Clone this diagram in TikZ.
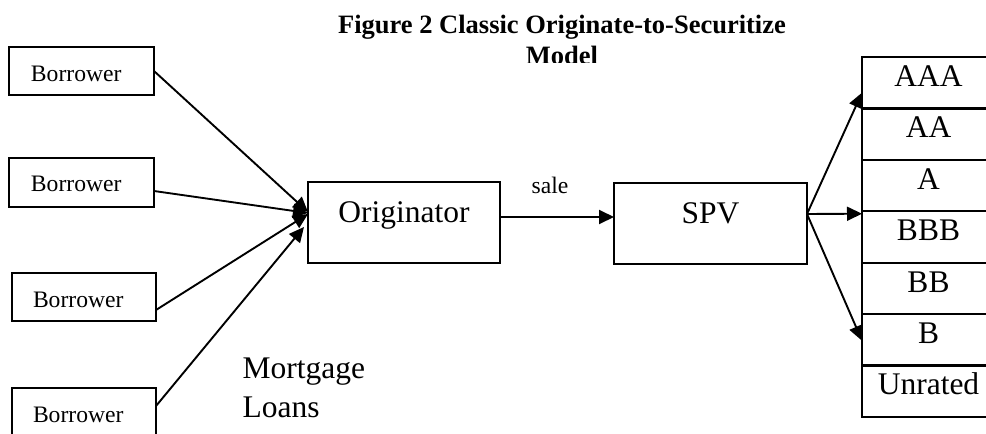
\documentclass[tikz,border=0pt]{standalone}
\usepackage{fontspec}
\setmainfont{Liberation Serif}
\usetikzlibrary{arrows.meta}
\begin{document}
\begin{tikzpicture}[x=1pt,y=-1pt,
  box/.style={draw, line width=2.2pt, inner sep=0pt, outer sep=0pt},
  conn/.style={line width=1.9pt},
  arr/.style={conn, -{Triangle[length=15pt,width=14pt]}},
  small/.style={font=\fontsize{23.6}{28}\selectfont},
  big/.style={font=\fontsize{31.5}{38}\selectfont},
  titlefont/.style={font=\bfseries\fontsize{26.5}{31.5}\selectfont},
  borrowerbox/.style={box, small, anchor=north west, text height=34pt, text depth=14pt},
  bigbox/.style={box, big, anchor=north west, text height=40pt, text depth=41pt},
  tranche/.style={box, big, anchor=north west, text height=29.5pt, text depth=21.9pt},
]
\useasboundingbox (0,0) rectangle (986,434);

% title
\node[titlefont, anchor=base] (title) at (562,33) {Figure 2 Classic Originate-to-Securitize};
\begin{scope}
  \clip (400,38) rectangle (720,62.5);
  \node[titlefont, anchor=base] (model) at (562,64.5) {Model};
\end{scope}

% borrowers
\node[borrowerbox] (b1) at (9,47) {\makebox[145pt][l]{\hspace{22pt}Borrower}};
\node[borrowerbox, text height=33pt, text depth=16pt] (b2) at (9,158) {\makebox[145pt][l]{\hspace{22pt}Borrower}};
\node[borrowerbox] (b3) at (12,273) {\makebox[144pt][l]{\hspace{21pt}Borrower}};
\node[borrowerbox] (b4) at (12,388) {\makebox[144pt][l]{\hspace{21pt}Borrower}};

% originator and SPV
\node[bigbox] (orig) at (308,182) {\makebox[192pt]{Originator}};
\node[bigbox] (spv) at (614,183) {\makebox[193pt]{SPV}};

% tranches
\node[tranche] (aaa) at (862,57) {\makebox[133pt]{AAA}};
\node[tranche] (aa) at (aaa.south west) {\makebox[133pt]{AA}};
\node[tranche] (a) at (aa.south west) {\makebox[133pt]{A}};
\node[tranche] (bbb) at (a.south west) {\makebox[133pt]{BBB}};
\node[tranche] (bb) at (bbb.south west) {\makebox[133pt]{BB}};
\node[tranche] (b) at (bb.south west) {\makebox[133pt]{B}};
\node[tranche] (unr) at (b.south west) {\makebox[133pt]{Unrated}};

% labels
\node[small, anchor=base] (sale) at (550,193) {sale};
\node[big, anchor=base west] (mort) at (239,378) {Mortgage};
\node[big, anchor=base west] (loans) at (239,417) {Loans};

% connectors: borrowers to originator
\draw[arr] (b1.east) -- ([yshift=10.5pt]orig.west);
\draw[arr] ([yshift=-8.5pt]b2.east) -- ([yshift=9.5pt]orig.west);
\draw[arr] ([yshift=-13pt]b3.east) -- ([yshift=8.5pt]orig.west);
\draw[arr] ([yshift=6pt]b4.east) -- ([xshift=-4pt,yshift=-4.5pt]orig.west);

% sale
\draw[arr] ([yshift=5.5pt]orig.east) -- ([yshift=6.5pt]spv.west);

% fan to tranches
\coordinate (fan) at ([yshift=9.5pt]spv.east);
\draw[arr] (fan) -- ([yshift=-10pt]aaa.west);
\draw[arr] (fan) -- ([yshift=-2.5pt]a.south west);
\draw[arr] (fan) -- ([yshift=-1pt]b.west);
\end{tikzpicture}
\end{document}
